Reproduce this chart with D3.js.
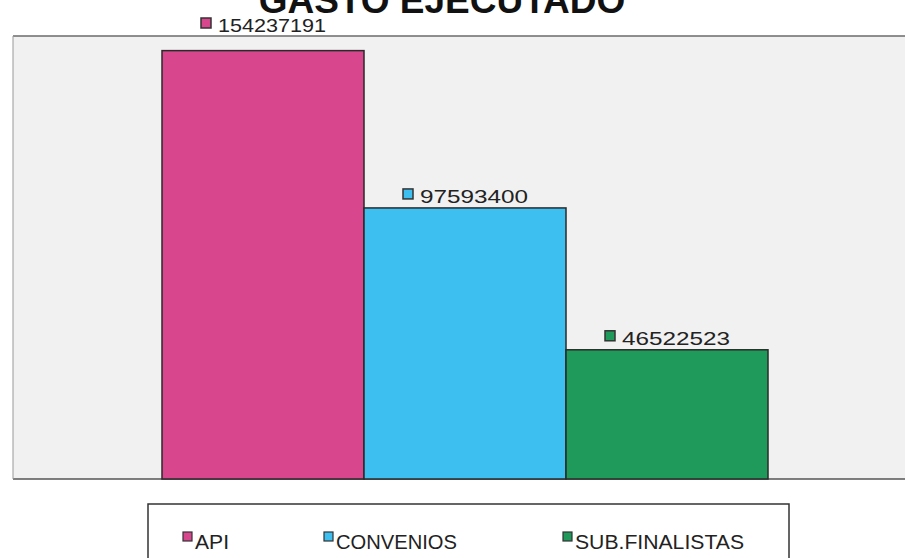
<!DOCTYPE html>
<html>
<head>
<meta charset="utf-8">
<script src="https://cdn.jsdelivr.net/npm/d3@7"></script>
<style>
	body { margin: 0; background: #fff; }
	svg { display: block; font-family: "Liberation Sans", Arial, sans-serif; }
</style>
</head>
<body>
<div id="graphic"></div>
<script>
// data
const categories = ["API", "CONVENIOS", "SUB.FINALISTAS"];
const values = [154237191, 97593400, 46522523];
const colours = ["#d8468e", "#3dbff0", "#1f9a5b"];

const width = 905, height = 558;
const plot = { left: 13, right: 910, top: 36, bottom: 479 };

let svg = d3.select('#graphic')
	.append('svg')
	.attr('width', width)
	.attr('height', height);

// plot area background
svg.append('rect')
	.attr('x', plot.left)
	.attr('y', plot.top)
	.attr('width', plot.right - plot.left)
	.attr('height', plot.bottom - plot.top)
	.attr('fill', '#f1f1f1');

//set up scales
const x = d3.scaleBand()
	.domain(categories)
	.range([162, 768])
	.paddingInner(0)
	.paddingOuter(0);

const y = d3.scaleLinear()
	.domain([0, 159500000])
	.range([plot.bottom, plot.top]);

// frame lines
svg.append('line')
	.attr('x1', plot.left).attr('x2', plot.right)
	.attr('y1', plot.top).attr('y2', plot.top)
	.attr('stroke', '#6a6a6a').attr('stroke-width', 1.5);
svg.append('line')
	.attr('x1', plot.left).attr('x2', plot.right)
	.attr('y1', plot.bottom).attr('y2', plot.bottom)
	.attr('stroke', '#555').attr('stroke-width', 1.5);
svg.append('line')
	.attr('x1', plot.left).attr('x2', plot.left)
	.attr('y1', plot.top).attr('y2', plot.bottom)
	.attr('stroke', '#999').attr('stroke-width', 1);

// bars
svg.selectAll('rect.bar')
	.data(values)
	.join('rect')
	.attr('class', 'bar')
	.attr('x', (d, i) => x(categories[i]))
	.attr('y', d => y(d))
	.attr('width', x.bandwidth())
	.attr('height', d => y(0) - y(d))
	.attr('fill', (d, i) => colours[i])
	.attr('stroke', '#2a2a2a')
	.attr('stroke-width', 1.5);

// value labels with small key squares, roughly centred over each bar
// (a label that would crowd the frame top sits above it, as in the scan)
function labelY(d) {
	let ly = y(d) - 5;
	return ly < plot.top + 20 ? plot.top - 4 : ly;
}

let labels = svg.selectAll('g.label')
	.data(values)
	.join('g')
	.attr('class', 'label')
	.attr('transform', (d, i) => `translate(${x(categories[i]) + x.bandwidth() / 2 - 62},${labelY(d)})`);

labels.append('rect')
	.attr('x', 0).attr('y', -14)
	.attr('width', 10).attr('height', 10)
	.attr('fill', (d, i) => colours[i])
	.attr('stroke', '#333')
	.attr('stroke-width', 1.5);

labels.append('text')
	.attr('x', 17)
	.attr('y', 0)
	.attr('font-size', 19)
	.attr('textLength', 108)
	.attr('lengthAdjust', 'spacingAndGlyphs')
	.attr('fill', '#222')
	.text(d => d);

// title (cut off at the top in the scan)
svg.append('text')
	.attr('x', 442)
	.attr('y', 13)
	.attr('text-anchor', 'middle')
	.attr('font-size', 37)
	.attr('font-weight', 'bold')
	.attr('fill', '#111')
	.text('GASTO EJECUTADO');

// legend
svg.append('rect')
	.attr('x', 148).attr('y', 504)
	.attr('width', 641).attr('height', 70)
	.attr('fill', '#fff')
	.attr('stroke', '#333')
	.attr('stroke-width', 1.5);

const legendX = [183, 324, 563];
const legendW = [34, 121, 169];
let legend = svg.selectAll('g.legend')
	.data(categories)
	.join('g')
	.attr('class', 'legend')
	.attr('transform', (d, i) => `translate(${legendX[i]},549)`);

legend.append('rect')
	.attr('x', 0).attr('y', -17)
	.attr('width', 9).attr('height', 9)
	.attr('fill', (d, i) => colours[i])
	.attr('stroke', '#333')
	.attr('stroke-width', 1.2);

legend.append('text')
	.attr('x', 12)
	.attr('y', 0)
	.attr('font-size', 20)
	.attr('textLength', (d, i) => legendW[i])
	.attr('lengthAdjust', 'spacingAndGlyphs')
	.attr('fill', '#222')
	.text(d => d);
</script>
</body>
</html>
